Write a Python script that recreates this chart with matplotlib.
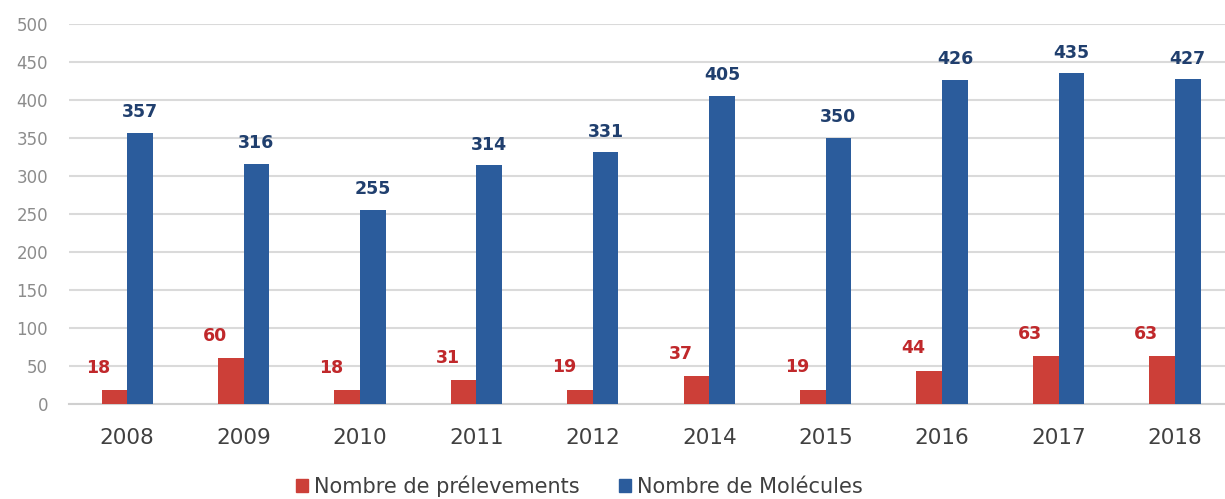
import numpy as np
from matplotlib import pyplot as plt
from matplotlib.patches import Patch

annees = ['2008', '2009', '2010', '2011', '2012', '2014', '2015', '2016', '2017', '2018']
prelevements = [18, 60, 18, 31, 19, 37, 19, 44, 63, 63]
molecules = [357, 316, 255, 314, 331, 405, 350, 426, 435, 427]

rouge = '#CC3F38'
bleu = '#2B5C9C'

fig = plt.figure(figsize=(12.25, 4.99), dpi=100)
ax = fig.add_axes([0.0563, 0.1904, 0.9437, 0.7615])

x = np.arange(len(annees))
w = 0.22
b1 = ax.bar(x - w / 2, prelevements, w, color=rouge, zorder=3)
b2 = ax.bar(x + w / 2, molecules, w, color=bleu, zorder=3)

# etiquettes de valeurs
for xi, v in zip(x, prelevements):
    ax.annotate(str(v), (xi - w / 2, v), xytext=(-11.5, 16), textcoords='offset points',
                ha='center', va='center', fontsize=12.5, fontweight='bold', color='#C0282B')
for xi, v in zip(x, molecules):
    ax.annotate(str(v), (xi + w / 2, v), xytext=(0, 15), textcoords='offset points',
                ha='center', va='center', fontsize=12.5, fontweight='bold', color='#203F6E')

ax.set_xlim(-0.5, 9.43)
ax.set_ylim(0, 500)
ax.set_yticks(range(0, 501, 50))
ax.set_xticks(x)
ax.set_xticklabels(annees)
ax.yaxis.grid(True, color='#DADADA', linewidth=1.5, zorder=0)
ax.set_axisbelow(True)
for s in ['top', 'right', 'left']:
    ax.spines[s].set_visible(False)
ax.spines['bottom'].set_color('#D0D0D0')
ax.spines['bottom'].set_linewidth(1.5)
ax.tick_params(axis='y', length=0, pad=15, labelsize=12, labelcolor='#8C8C8C')
ax.tick_params(axis='x', length=0, pad=17, labelsize=15.5, labelcolor='#404040')

handles = [Patch(color=rouge, label='Nombre de prélevements'),
           Patch(color=bleu, label='Nombre de Molécules')]
fig.legend(handles=handles, loc='center', bbox_to_anchor=(0.473, 0.026), ncol=2,
           frameon=False, fontsize=15, labelcolor='#404040',
           handlelength=0.55, handleheight=0.55, handletextpad=0.3, columnspacing=1.9)

plt.savefig('out.png', dpi=100)
